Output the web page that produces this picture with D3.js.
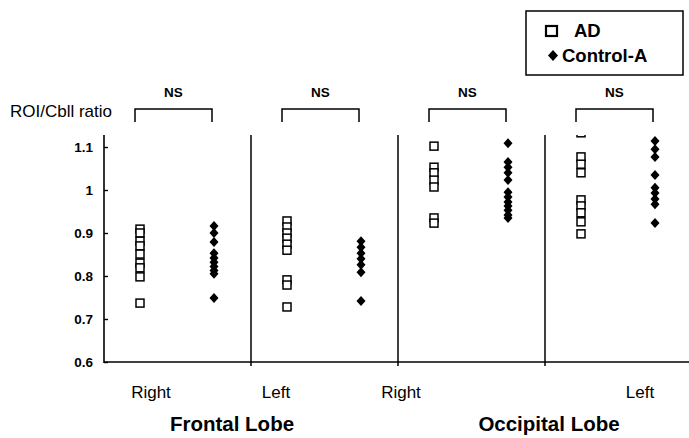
<!DOCTYPE html>
<html>
<head>
<meta charset="utf-8">
<script src="https://cdn.jsdelivr.net/npm/d3@7/dist/d3.min.js"></script>
<style>
  html, body { margin: 0; padding: 0; background: #fff; }
  svg { display: block; font-family: "Liberation Sans", Arial, sans-serif; }
</style>
</head>
<body>
<svg id="chart" width="689" height="438"></svg>
<script>
// ---- data ----
const panels = ["Frontal-Right", "Frontal-Left", "Occipital-Right", "Occipital-Left"];
const sideLabels = ["Right", "Left", "Right", "Left"];
const lobeLabels = ["Frontal Lobe", "Occipital Lobe"];
const seriesNames = ["AD", "Control-A"];
const yTicks = [0.6, 0.7, 0.8, 0.9, 1, 1.1];
const sigLabels = ["NS", "NS", "NS", "NS"];

const adValues = [
  [0.909, 0.900, 0.881, 0.870, 0.851, 0.830, 0.819, 0.798, 0.737],
  [0.928, 0.914, 0.900, 0.888, 0.874, 0.860, 0.791, 0.779, 0.728],
  [1.102, 1.053, 1.040, 1.023, 1.007, 0.935, 0.923],
  [1.133, 1.077, 1.060, 1.040, 0.977, 0.963, 0.947, 0.926, 0.898]
];
const controlValues = [
  [0.916, 0.900, 0.879, 0.853, 0.842, 0.832, 0.822, 0.813, 0.805, 0.749],
  [0.881, 0.867, 0.853, 0.840, 0.826, 0.809, 0.742],
  [1.109, 1.065, 1.053, 1.040, 1.023, 0.995, 0.984, 0.972, 0.963, 0.953, 0.942, 0.935],
  [1.114, 1.095, 1.077, 1.035, 1.005, 0.993, 0.979, 0.967, 0.923]
];

// ---- layout ----
const svg = d3.select("#chart");
const plotLeft = 104, plotRight = 689, plotTop = 135, plotBottom = 362;
const yMin = 0.6, yMax = 0.6 + (plotBottom - plotTop) / 430;

const y = d3.scaleLinear().domain([yMin, yMax]).range([plotBottom, plotTop]);
const panelX = d3.scaleBand().domain(panels).range([plotLeft, 692]).paddingInner(0).paddingOuter(0);
const groupX = d3.scalePoint().domain(seriesNames).range([36, 110]);

const fontFam = '"Liberation Sans", Arial, sans-serif';

svg.append("defs").append("clipPath").attr("id", "plotClip")
  .append("rect").attr("x", plotLeft).attr("y", plotTop)
  .attr("width", plotRight - plotLeft).attr("height", plotBottom - plotTop);

// y axis
const yAxis = d3.axisRight(y).tickValues(yTicks).tickSize(4).tickFormat(d3.format("~g"));
const gy = svg.append("g").attr("transform", `translate(${plotLeft},0)`).call(yAxis);
gy.select(".domain").remove();
gy.selectAll(".tick line").attr("stroke", "#000").attr("stroke-width", 1.4);
gy.selectAll(".tick text").attr("x", -11).attr("text-anchor", "end")
  .attr("font-size", 13.5).attr("font-weight", "bold").attr("fill", "#000")
  .attr("font-family", fontFam);
svg.append("line").attr("x1", plotLeft).attr("x2", plotLeft)
  .attr("y1", plotTop).attr("y2", plotBottom + 1)
  .attr("stroke", "#000").attr("stroke-width", 1.6);

// bottom axis
svg.append("line").attr("x1", plotLeft).attr("x2", plotRight)
  .attr("y1", plotBottom).attr("y2", plotBottom)
  .attr("stroke", "#000").attr("stroke-width", 1.6);

// dividers
panels.slice(1).forEach(p => {
  const xx = panelX(p);
  svg.append("line").attr("x1", xx).attr("x2", xx)
    .attr("y1", plotTop).attr("y2", plotBottom + 4)
    .attr("stroke", "#000").attr("stroke-width", 1.5);
});

// y label
svg.append("text").attr("x", 10).attr("y", 117)
  .attr("font-size", 17).attr("fill", "#000").attr("font-family", fontFam)
  .text("ROI/Cbll ratio");

// brackets + NS
panels.forEach((p, i) => {
  const x0 = panelX(p) + groupX("AD") - 5;
  const x1 = panelX(p) + groupX("Control-A") - 2;
  svg.append("path")
    .attr("d", `M${x0},122 V109 H${x1} V122`)
    .attr("fill", "none").attr("stroke", "#000").attr("stroke-width", 1.5);
  svg.append("text").attr("x", (x0 + x1) / 2).attr("y", 97)
    .attr("text-anchor", "middle").attr("font-size", 13.5).attr("font-weight", "bold")
    .attr("font-family", fontFam).attr("fill", "#000").text(sigLabels[i]);
});

// points
const pts = svg.append("g").attr("clip-path", "url(#plotClip)");
const sq = 8;
panels.forEach((p, i) => {
  const xa = panelX(p) + groupX("AD");
  pts.selectAll(null).data(adValues[i]).enter().append("rect")
    .attr("x", xa - sq / 2).attr("y", d => y(d) - sq / 2)
    .attr("width", sq).attr("height", sq)
    .attr("fill", "#fff").attr("stroke", "#000").attr("stroke-width", 1.5);
  const xc = panelX(p) + groupX("Control-A");
  pts.selectAll(null).data(controlValues[i]).enter().append("path")
    .attr("d", d => `M${xc},${y(d) - 5} L${xc + 4.5},${y(d)} L${xc},${y(d) + 5} L${xc - 4.5},${y(d)} Z`)
    .attr("fill", "#000");
});

// side labels
const sideOffsets = [47, 25, 3, 95];
panels.forEach((p, i) => {
  svg.append("text").attr("x", panelX(p) + sideOffsets[i]).attr("y", 398)
    .attr("text-anchor", "middle").attr("font-size", 17).attr("fill", "#000")
    .attr("font-family", fontFam).text(sideLabels[i]);
});

// lobe labels
const lobeCenters = [232, 549];
lobeLabels.forEach((t, i) => {
  svg.append("text").attr("x", lobeCenters[i]).attr("y", 431)
    .attr("text-anchor", "middle").attr("font-size", 20.5).attr("font-weight", "bold")
    .attr("fill", "#000").attr("font-family", fontFam).text(t);
});

// legend
const lg = svg.append("g");
lg.append("rect").attr("x", 526).attr("y", 11).attr("width", 157).attr("height", 64)
  .attr("fill", "#fff").attr("stroke", "#000").attr("stroke-width", 1.5);
lg.append("rect").attr("x", 546).attr("y", 26).attr("width", 11).attr("height", 10)
  .attr("fill", "#fff").attr("stroke", "#000").attr("stroke-width", 2.2);
lg.append("text").attr("x", 574).attr("y", 37).attr("font-size", 18.5).attr("font-weight", "bold")
  .attr("font-family", fontFam).attr("fill", "#000").text(seriesNames[0]);
lg.append("path").attr("d", "M553,50 L558,55.5 L553,61 L548,55.5 Z").attr("fill", "#000");
lg.append("text").attr("x", 562).attr("y", 62).attr("font-size", 18.5).attr("font-weight", "bold")
  .attr("font-family", fontFam).attr("fill", "#000").text(seriesNames[1]);
</script>
</body>
</html>
